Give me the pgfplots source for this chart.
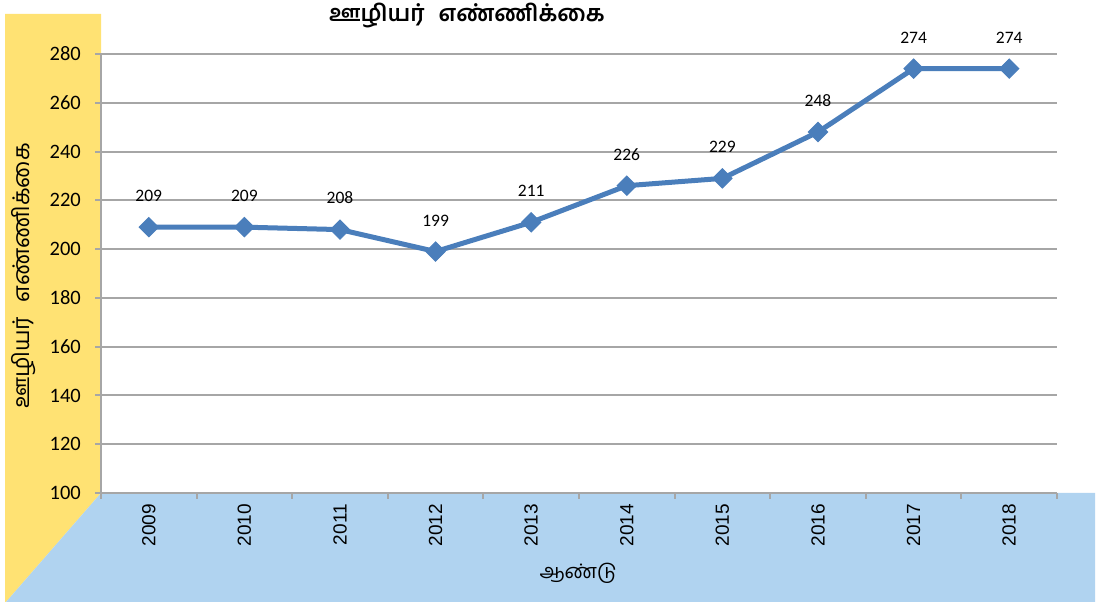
\documentclass[border=0pt]{standalone}
\usepackage{fontspec}
\usepackage{pgfplots}
\pgfplotsset{compat=1.18}
\setmainfont{Carlito}
\newfontfamily\arialfont{Liberation Sans}
\newfontfamily\tamil[Script=Tamil]{Hind Madurai}
\definecolor{wallyellow}{RGB}{255,226,115}
\definecolor{floorblue}{RGB}{176,211,240}
\definecolor{lineblue}{RGB}{74,126,187}
\definecolor{gridgray}{RGB}{166,166,166}
\begin{document}
\begin{tikzpicture}[x=1pt,y=1pt]
\path[use as bounding box] (0,0) rectangle (1097,602);
\fill[wallyellow] (5,588) -- (101,588) -- (101,109) -- (6,0) -- (5,0) -- cycle;
\fill[floorblue] (101,109) -- (1095,109) -- (1095,0) -- (6,0) -- cycle;
\begin{axis}[
  at={(101pt,109pt)}, anchor=south west,
  scale only axis, width=956pt, height=439pt,
  xmin=-0.5, xmax=9.5, ymin=100, ymax=280,
  ytick={100,120,...,280},
  xtick={0,...,9},
  xticklabels={2009,2010,2011,2012,2013,2014,2015,2016,2017,2018},
  minor xtick={-0.5,0.5,...,9.5},
  axis lines*=left,
  axis line style={-, draw=gridgray, line width=2pt},
  tick align=outside,
  major tick length=6pt, minor tick length=6pt,
  xtick style={draw=none},
  minor x tick style={draw=gridgray, line width=2pt},
  ytick style={draw=gridgray, line width=2pt},
  ymajorgrids,
  grid style={draw=gridgray, line width=2pt},
  /pgf/number format/assume math mode=true,
  yticklabel style={font=\fontsize{20.5}{24}\selectfont, inner sep=0pt, anchor=east, xshift=-14pt},
  xticklabel style={font=\arialfont\fontsize{19}{22}\selectfont, rotate=90, anchor=east, inner sep=0pt},
  xticklabel shift=5pt,
  clip=false,
  nodes near coords,
  every node near coord/.append style={font=\fontsize{17.5}{20}\selectfont, anchor=south, inner sep=0pt, yshift=25pt, text=black},
]
\addplot[color=lineblue, line width=5pt, mark=square*, mark size=6.8pt,
  mark options={rotate=45, fill=lineblue, draw=lineblue, line width=1pt}]
  coordinates {(0,209) (1,209) (2,208) (3,199) (4,211) (5,226) (6,229) (7,248) (8,274) (9,274)};
\end{axis}
\node[font=\tamil\bfseries\fontsize{23}{27}\selectfont] at (467,586) {ஊழியர்\hspace{14pt}எண்ணிக்கை};
\node[font=\tamil\fontsize{23}{27}\selectfont, rotate=90] at (24,326) {ஊழியர்\hspace{14pt}எண்ணிக்கை};
\node[font=\tamil\fontsize{20}{24}\selectfont] at (578,29) {ஆண்டு};
\end{tikzpicture}
\end{document}
